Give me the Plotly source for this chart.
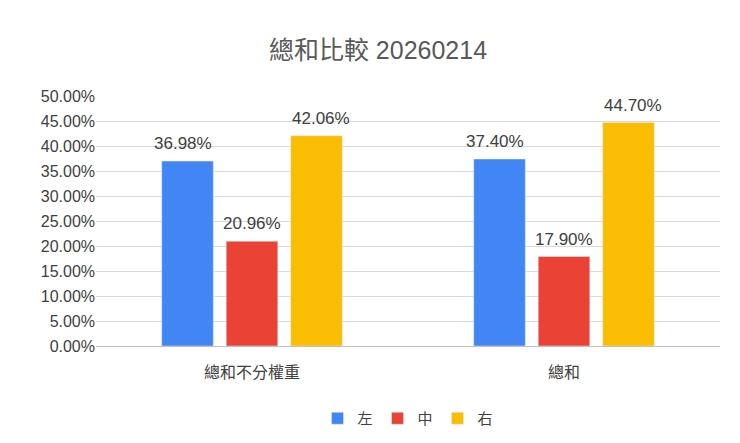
import plotly.graph_objects as go

categories = ["總和不分權重", "總和"]
series_names = ["左", "中", "右"]
left_vals = [36.98, 37.40]
mid_vals = [20.96, 17.90]
right_vals = [42.06, 44.70]
colors = ["#4285F4", "#EA4335", "#FBBC04"]
y_ticks = [0, 5, 10, 15, 20, 25, 30, 35, 40, 45, 50]

font_family = "Liberation Sans, Arial, Noto Sans CJK TC, sans-serif"

fig = go.Figure()
for name, vals, color in zip(series_names, [left_vals, mid_vals, right_vals], colors):
    fig.add_trace(go.Bar(
        x=categories, y=vals, name=name, marker_color=color,
        hoverinfo="y",
    ))
    # value labels a little above each bar
    for i, v in enumerate(vals):
        fig.add_annotation(x=categories[i], y=v, text=f"{v:.2f}%", showarrow=False,
                           yanchor="bottom", yshift=6, xref="x", yref="y",
                           font={"size": 17, "color": "#404040"})

# shift annotations to their bar offset within the group
offsets = [-1, 0, 1]
for k, ann in enumerate(fig.layout.annotations):
    ann.xshift = offsets[k // 2] * 69

fig.update_layout(
    width=740, height=443,
    paper_bgcolor="white", plot_bgcolor="white",
    font={"family": font_family, "color": "#595959"},
    title={"text": "總和比較 20260214", "x": 0.5, "y": 0.905, "xanchor": "center",
           "yanchor": "middle", "font": {"size": 25, "color": "#595959"}},
    margin={"l": 88, "r": 28, "t": 88, "b": 105},
    barmode="group", bargap=0.38, bargroupgap=0.2,
    legend={"orientation": "h", "x": 0.5, "xanchor": "center", "y": -0.29,
            "yanchor": "middle", "font": {"size": 15, "color": "#404040"}},
)
fig.update_yaxes(
    range=[0, 50], tickvals=y_ticks, ticktext=[f"{t:.2f}%" for t in y_ticks],
    gridcolor="#d9d9d9", zeroline=False, tickfont={"size": 16, "color": "#404040"},
    ticks="", showline=False, automargin=False,
)
fig.update_xaxes(tickfont={"size": 16, "color": "#404040"}, showline=True,
                 linecolor="#bfbfbf", ticklabelstandoff=12)

fig.write_html("out.html")
